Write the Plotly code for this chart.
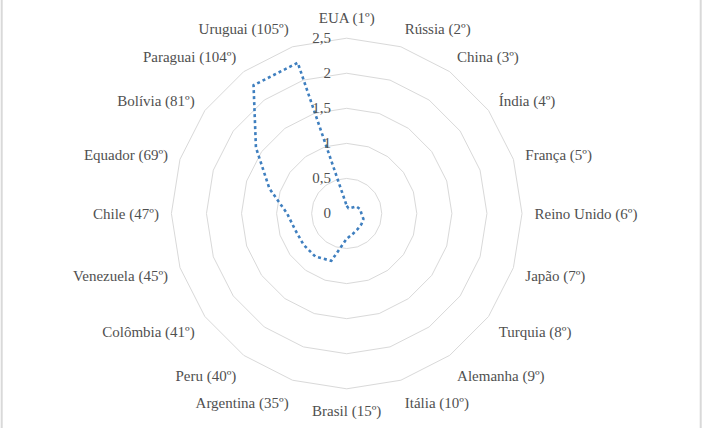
import plotly.graph_objects as go

categories = ["EUA (1º)", "Rússia (2º)", "China (3º)", "Índia (4º)", "França (5º)",
              "Reino Unido (6º)", "Japão (7º)", "Turquia (8º)", "Alemanha (9º)", "Itália (10º)",
              "Brasil (15º)", "Argentina (35º)", "Peru (40º)", "Colômbia (41º)", "Venezuela (45º)",
              "Chile (47º)", "Equador (69º)", "Bolívia (81º)", "Paraguai (104º)", "Uruguai (105º)"]
values = [0.11, 0.08, 0.10, 0.17, 0.20, 0.21, 0.25, 0.26, 0.27, 0.30,
          0.36, 0.71, 0.76, 0.76, 0.77, 0.85, 1.16, 1.60, 2.26, 2.26]
tick_vals = [0, 0.5, 1, 1.5, 2, 2.5]
tick_text = ["0", "0,5", "1", "1,5", "2", "2,5"]

W, H = 705, 428
cx, cy, R = 346.7, 213.5, 175.3
FONT = "Liberation Serif"
TXT = "#505050"

fig = go.Figure()
fig.add_trace(go.Scatterpolar(
    r=values + values[:1], theta=categories + categories[:1],
    mode="lines", line=dict(color="#3f7fbf", width=2.6, dash="dot"),
    hoverinfo="skip", showlegend=False))

fig.update_layout(
    width=W, height=H, margin=dict(l=0, r=0, t=0, b=0),
    paper_bgcolor="white", plot_bgcolor="white",
    font=dict(family=FONT, size=15, color=TXT),
    polar=dict(
        domain=dict(x=[(cx - R) / W, (cx + R) / W], y=[(H - cy - R) / H, (H - cy + R) / H]),
        gridshape="linear", bgcolor="white",
        radialaxis=dict(range=[0, 2.5], tickvals=tick_vals, ticktext=tick_text,
                        angle=90, tickangle=90, showline=False,
                        ticks="outside", ticklen=10, tickcolor="rgba(0,0,0,0)",
                        gridcolor="#d9d9d9", gridwidth=1, side="counterclockwise",
                        tickfont=dict(family=FONT, size=15, color=TXT)),
        angularaxis=dict(direction="clockwise", rotation=90, showgrid=False,
                         showline=True, linecolor="#d9d9d9", linewidth=1,
                         ticks="outside", ticklen=9, tickcolor="rgba(0,0,0,0)",
                         tickfont=dict(family=FONT, size=15, color=TXT)),
    ),
    shapes=[
        dict(type="line", xref="paper", yref="paper", x0=1.7 / W, x1=1.7 / W, y0=0, y1=1,
             line=dict(color="#d9d9d9", width=2)),
        dict(type="line", xref="paper", yref="paper", x0=700.7 / W, x1=700.7 / W, y0=0, y1=1,
             line=dict(color="#d9d9d9", width=2)),
    ],
)
fig.write_html("out.html")
